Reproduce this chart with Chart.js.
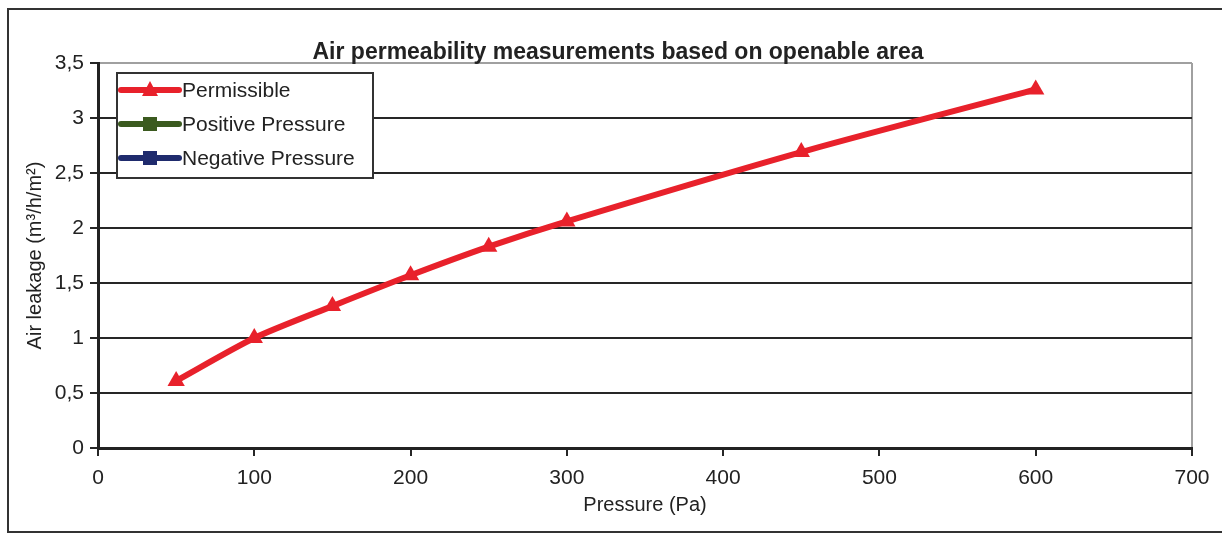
<!DOCTYPE html>
<html>
<head>
<meta charset="utf-8">
<script src="https://cdn.jsdelivr.net/npm/chart.js@4/dist/chart.umd.min.js"></script>
<style>
  html, body { margin: 0; padding: 0; background: #fff; }
  #wrap { width: 1222px; height: 534px; }
</style>
</head>
<body>
<div id="wrap"><canvas id="chart" width="1222" height="534"></canvas></div>
<script>
// values
const pressure = [50, 100, 150, 200, 250, 300, 450, 600];
const permissible = [0.61, 1.0, 1.29, 1.57, 1.83, 2.06, 2.69, 3.26];
const positivePressure = [];
const negativePressure = [];

const xTicks = [0, 100, 200, 300, 400, 500, 600, 700];
const yTicks = [0, 0.5, 1, 1.5, 2, 2.5, 3, 3.5];

const chartTitle = 'Air permeability measurements based on openable area';
const xTitle = 'Pressure (Pa)';
const yTitle = 'Air leakage (m³/h/m²)';

const toPoints = (xs, ys) => ys.map((y, i) => ({ x: xs[i], y: y }));

Chart.defaults.font.family = '"Liberation Sans", Arial, sans-serif';
Chart.defaults.color = '#222';

// frame, title and boxed legend drawn on top of the chart
const decorations = {
    id: 'decorations',
    beforeDraw(chart) {
        const ctx = chart.ctx;
        ctx.save();
        ctx.fillStyle = '#fff';
        ctx.fillRect(0, 0, chart.width, chart.height);
        ctx.strokeStyle = '#333';
        ctx.lineWidth = 2;
        ctx.strokeRect(8, 9, chart.width + 20, 523);
        ctx.restore();
    },
    afterDraw(chart) {
        const ctx = chart.ctx;
        const area = chart.chartArea;
        ctx.save();

        // title
        ctx.font = 'bold 23px "Liberation Sans", Arial, sans-serif';
        ctx.fillStyle = '#222';
        ctx.textAlign = 'center';
        ctx.textBaseline = 'middle';
        ctx.fillText(chartTitle, 618, 53);

        // legend box
        const bx = area.left + 19, by = area.top + 10, bw = 256, bh = 105;
        ctx.fillStyle = '#fff';
        ctx.fillRect(bx, by, bw, bh);
        ctx.strokeStyle = '#333';
        ctx.lineWidth = 2;
        ctx.strokeRect(bx, by, bw, bh);

        ctx.font = '21px "Liberation Sans", Arial, sans-serif';
        ctx.textAlign = 'left';
        chart.data.datasets.forEach((ds, i) => {
            const y = by + 17 + i * 34;
            ctx.strokeStyle = ds.borderColor;
            ctx.lineWidth = 6;
            ctx.lineCap = 'round';
            ctx.beginPath();
            ctx.moveTo(bx + 4, y);
            ctx.lineTo(bx + 62, y);
            ctx.stroke();
            ctx.fillStyle = ds.backgroundColor;
            if (ds.pointStyle === 'triangle') {
                ctx.beginPath();
                ctx.moveTo(bx + 33, y - 9);
                ctx.lineTo(bx + 41, y + 6);
                ctx.lineTo(bx + 25, y + 6);
                ctx.closePath();
                ctx.fill();
            } else {
                ctx.fillRect(bx + 26, y - 7, 14, 14);
            }
            ctx.fillStyle = '#222';
            ctx.fillText(ds.label, bx + 65, y + 1);
        });
        ctx.restore();
    }
};

const ctx = document.getElementById('chart').getContext('2d');
new Chart(ctx, {
    type: 'line',
    data: {
        datasets: [{
            label: 'Permissible',
            data: toPoints(pressure, permissible),
            borderColor: '#e8212b',
            backgroundColor: '#e8212b',
            borderWidth: 6,
            tension: 0.25,
            pointStyle: 'triangle',
            pointRadius: 10,
            pointBorderWidth: 0,
        }, {
            label: 'Positive Pressure',
            data: toPoints(pressure, positivePressure),
            borderColor: '#3b5a1f',
            backgroundColor: '#3b5a1f',
            borderWidth: 6,
            pointStyle: 'rect',
        }, {
            label: 'Negative Pressure',
            data: toPoints(pressure, negativePressure),
            borderColor: '#1f2b6d',
            backgroundColor: '#1f2b6d',
            borderWidth: 6,
            pointStyle: 'rect',
        }],
    },
    options: {
        responsive: false,
        animation: false,
        layout: { padding: { top: 63, right: 30, bottom: 0, left: 0 } },
        plugins: {
            legend: { display: false },
            title: { display: false },
            tooltip: { enabled: false },
        },
        scales: {
            x: {
                type: 'linear',
                min: 0,
                max: 700,
                afterBuildTicks: (scale) => { scale.ticks = xTicks.map(v => ({ value: v })); },
                afterFit: (scale) => { scale.height = 86; },
                ticks: { font: { size: 21 }, padding: 10, maxRotation: 0, color: '#222' },
                grid: {
                    drawOnChartArea: true,
                    color: (c) => c.tick && c.tick.value === 700 ? '#a0a0a0' : 'rgba(0,0,0,0)',
                    tickColor: '#262626',
                    lineWidth: 2,
                    tickWidth: 2,
                    tickLength: 8,
                },
                border: { color: '#222', width: 3 },
                title: { display: true, text: xTitle, font: { size: 20 }, padding: { top: 0, bottom: 17 }, color: '#222' },
            },
            y: {
                min: 0,
                max: 3.5,
                afterBuildTicks: (scale) => { scale.ticks = yTicks.map(v => ({ value: v })); },
                afterFit: (scale) => { scale.width = 98; },
                ticks: {
                    font: { size: 21 },
                    padding: 6,
                    color: '#222',
                    callback: (v) => String(v).replace('.', ','),
                },
                grid: {
                    color: (c) => c.tick && c.tick.value === 3.5 ? '#a0a0a0' : '#262626',
                    tickColor: '#262626',
                    lineWidth: 2,
                    tickWidth: 2,
                    tickLength: 8,
                },
                border: { color: '#222', width: 3 },
                title: { display: true, text: yTitle, font: { size: 20 }, padding: { top: 23, bottom: 0 }, color: '#222' },
            },
        },
    },
    plugins: [decorations],
});
</script>
</body>
</html>
